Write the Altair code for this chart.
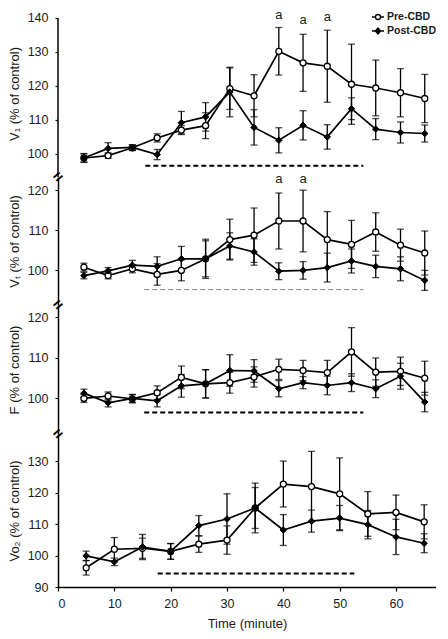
import altair as alt
import pandas as pd

FONT = "Liberation Sans"
TXT = "#1a1a1a"
SERIES = ["Pre-CBD", "Post-CBD"]

# time points (minutes)
t15 = [4.6, 8.9, 13.2, 17.6, 21.9, 26.2, 30.5, 34.8, 39.2, 43.5, 47.8, 52.1, 56.4, 60.8, 65.1]
t13 = [5, 10, 15, 20, 25, 30, 35, 40, 45, 50, 55, 60, 65]

# V1
v1_pre = [98.8, 99.5, 101.8, 104.7, 107.0, 108.3, 119.2, 117.1, 130.2, 126.8, 125.8, 120.5, 119.4, 118.0, 116.3]
v1_pre_err = [1.2, 0.8, 0.8, 1.2, 1.3, 3.8, 6.1, 6.2, 7.0, 8.4, 10.6, 11.8, 8.2, 7.1, 7.1]
v1_post = [98.8, 101.6, 101.9, 99.8, 109.2, 110.9, 118.2, 107.8, 104.0, 108.4, 105.0, 113.3, 107.3, 106.3, 106.0]
v1_post_err = [1.3, 1.7, 0.8, 1.5, 3.3, 4.2, 7.3, 5.2, 3.7, 4.3, 3.6, 3.2, 3.1, 3.1, 2.5]

# VT
vt_pre = [100.7, 98.6, 100.3, 98.9, 99.9, 102.8, 107.6, 108.7, 112.25, 112.25, 107.6, 106.4, 109.5, 106.2, 104.25]
vt_pre_err = [1.0, 0.8, 1.0, 2.7, 2.6, 4.9, 5.1, 6.8, 7.0, 7.7, 7.0, 6.0, 4.8, 4.0, 5.5]
vt_post = [98.6, 99.8, 101.2, 100.9, 102.8, 102.8, 106.0, 104.5, 99.7, 99.9, 100.6, 102.25, 100.9, 100.3, 97.4]
vt_post_err = [0.8, 0.8, 1.2, 2.4, 3.1, 4.5, 3.3, 3.3, 2.1, 2.2, 3.6, 3.0, 2.8, 3.0, 2.5]

# F
f_pre = [99.9, 100.5, 99.8, 101.3, 105.1, 103.5, 103.8, 105.2, 107.1, 106.8, 106.3, 111.4, 106.4, 106.6, 104.9]
f_pre_err = [1.0, 1.0, 1.0, 1.7, 2.8, 3.5, 2.6, 2.5, 2.5, 2.5, 3.0, 6.0, 3.5, 3.5, 4.2]
f_post = [101.2, 98.8, 99.9, 99.3, 103.0, 103.5, 106.8, 106.7, 102.3, 103.8, 103.1, 103.8, 102.3, 105.4, 99.0]
f_post_err = [1.0, 1.0, 1.0, 1.5, 2.8, 3.5, 3.9, 2.8, 2.0, 1.5, 2.3, 2.2, 2.2, 3.2, 2.4]

# VO2
vo_pre = [96.1, 102.0, 102.3, 101.3, 103.6, 104.9, 115.1, 122.7, 121.9, 119.6, 113.2, 113.7, 110.7]
vo_pre_err = [2.3, 3.7, 3.2, 2.5, 2.6, 4.5, 6.5, 7.3, 11.2, 11.4, 7.1, 5.5, 5.4]
vo_post = [99.9, 98.0, 102.7, 101.3, 109.5, 111.6, 115.1, 108.1, 110.9, 111.9, 109.8, 105.9, 103.9]
vo_post_err = [1.5, 1.2, 4.0, 2.5, 3.2, 8.0, 7.9, 4.9, 3.5, 4.0, 4.5, 5.6, 3.0]

titles = ["V\u2081 (% of control)", "V\u209c (% of control)", "F (% of control)", "Vo\u2082 (% of control)"]
y_ticks = [[100, 110, 120, 130, 140], [100, 110, 120], [100, 110, 120], [90, 100, 110, 120, 130]]
y_domains = [[93.2, 142.35], [91.25, 123.25], [91.1, 123.0], [90, 138.6]]
heights = [167, 128, 129, 153]
x_ticks = [0, 10, 20, 30, 40, 50, 60]
x_domain = [0, 67.1]

# dashed bars (time window)
dash_start = [15.5, 15.3, 15.3, 17.7]
dash_end = [54.2, 54.2, 54.2, 52.6]
dash_level = [96.5, 95.1, 96.4, 94.3]
dash_color = ["black", "#9a9a9a", "black", "black"]
dash_width = [2.0, 1.3, 2.0, 2.0]

# significance marks
a1_t = [39.2, 43.5, 47.8]
a1_v = [141.0, 139.4, 140.3]
a2_t = [39.2, 43.5]
a2_v = [122.8, 122.8]

PRE_PATH = "M-1,0L-0.42,0M0.42,0L1,0M-0.42,0A0.42,0.42,0,1,1,0.42,0A0.42,0.42,0,1,1,-0.42,0Z"
POST_PATH = "M-1,0L1,0M0,-0.5L0.45,0L0,0.5L-0.45,0Z"


def make_df(t, pre, pre_e, post, post_e):
    rows = []
    for s, vals, errs in (("Pre-CBD", pre, pre_e), ("Post-CBD", post, post_e)):
        for ti, v, e in zip(t, vals, errs):
            rows.append({"t": ti, "v": v, "lo": v - e, "hi": v + e, "series": s})
    return pd.DataFrame(rows)


dfs = [
    make_df(t15, v1_pre, v1_pre_err, v1_post, v1_post_err),
    make_df(t15, vt_pre, vt_pre_err, vt_post, vt_post_err),
    make_df(t15, f_pre, f_pre_err, f_post, f_post_err),
    make_df(t13, vo_pre, vo_pre_err, vo_post, vo_post_err),
]


def legend_def():
    return alt.Legend(title=None, orient="none", legendX=313, legendY=0,
                      symbolSize=144, symbolStrokeWidth=1.3, symbolOpacity=1,
                      labelFont=FONT, labelFontSize=10.5, labelFontWeight="bold",
                      labelColor=TXT, labelOffset=2, rowPadding=1, padding=0)


def panel(i):
    df = dfs[i]
    bottom = i == 3
    xs = alt.Scale(domain=x_domain, nice=False, zero=False)
    ys = alt.Scale(domain=y_domains[i], nice=False, zero=False)
    if bottom:
        xax = alt.Axis(values=x_ticks, title="Time (minute)", grid=False, tickSize=4,
                       labelPadding=6, titlePadding=8, domainColor="black", tickColor="black",
                       domainWidth=1.5, tickWidth=1.2, labelFont=FONT, labelFontSize=12.5,
                       labelColor=TXT, titleFont=FONT, titleFontSize=13, labelOverlap=False,
                       titleFontWeight="normal", titleColor=TXT)
    else:
        xax = None
    yax = alt.Axis(values=y_ticks[i], title=titles[i], grid=False, domain=(i != 0),
                   tickSize=3, labelPadding=7, titlePadding=6, domainColor="black",
                   tickColor="black", domainWidth=1.5, tickWidth=1.2, labelFont=FONT,
                   labelFontSize=12.5, labelColor=TXT, titleFont=FONT, titleFontSize=13,
                   titleFontWeight="normal", titleColor=TXT, labelOverlap=False,
                   labelBound=False, labelFlush=False, tickCount=len(y_ticks[i]))
    base = alt.Chart(df)
    err = base.mark_rule(color="black", strokeWidth=1.3).encode(
        x=alt.X("t:Q", scale=xs, axis=xax),
        y=alt.Y("lo:Q", scale=ys, axis=yax),
        y2="hi:Q",
    )
    cap_lo = base.mark_tick(orient="horizontal", color="black", size=7, thickness=1.3).encode(
        x="t:Q", y="lo:Q")
    cap_hi = base.mark_tick(orient="horizontal", color="black", size=7, thickness=1.3).encode(
        x="t:Q", y="hi:Q")
    line = base.mark_line(color="black", strokeWidth=1.7).encode(
        x="t:Q", y="v:Q", detail="series:N")
    pre_pts = base.transform_filter(alt.datum.series == "Pre-CBD").mark_point(
        shape="circle", filled=True, fill="white", stroke="black", strokeWidth=1.3,
        size=36, opacity=1).encode(x="t:Q", y="v:Q")
    post_pts = base.transform_filter(alt.datum.series == "Post-CBD").mark_point(
        shape="diamond", filled=True, fill="black", stroke="black", strokeWidth=1,
        size=42, opacity=1).encode(x="t:Q", y="v:Q")

    dash = alt.Chart(pd.DataFrame({"x0": [dash_start[i]], "x1": [dash_end[i]],
                                   "y": [dash_level[i]]})).mark_rule(
        strokeDash=[5, 3], strokeWidth=dash_width[i], color=dash_color[i]).encode(
        x="x0:Q", x2="x1:Q", y="y:Q")

    layers = [err, cap_lo, cap_hi, line, pre_pts, post_pts, dash]

    one = pd.DataFrame({"k": [0]})
    if i < 3:
        brk = alt.Chart(one).mark_text(text="=", angle=320, fontSize=16, fontWeight="bold",
                                       color="black", font=FONT).encode(
            x=alt.datum(0), y=alt.datum(y_domains[i][0]))
        layers.append(brk)
    if i == 0:
        axis_line = alt.Chart(one).mark_rule(color="black", strokeWidth=1.5).encode(
            x=alt.datum(0), y=alt.datum(y_domains[0][0]), y2=alt.datum(140))
        layers.append(axis_line)
        ann = alt.Chart(pd.DataFrame({"t": a1_t, "v": a1_v})).mark_text(
            text="a", fontSize=13, font=FONT, color=TXT, baseline="middle").encode(
            x="t:Q", y="v:Q")
        layers.append(ann)
        leg_df = pd.DataFrame({"series": SERIES, "t": [t15[0], t15[0]], "v": [v1_pre[0], v1_pre[0]]})
        leg = alt.Chart(leg_df).mark_point(filled=True, opacity=0, strokeWidth=1.3,
                                            size=144).encode(
            x="t:Q", y="v:Q",
            shape=alt.Shape("series:N", scale=alt.Scale(domain=SERIES, range=[PRE_PATH, POST_PATH]),
                            legend=legend_def()),
            fill=alt.Fill("series:N", scale=alt.Scale(domain=SERIES, range=["white", "black"]),
                          legend=legend_def()),
            stroke=alt.Stroke("series:N", scale=alt.Scale(domain=SERIES, range=["black", "black"]),
                              legend=legend_def()),
        )
        layers.append(leg)
    if i == 1:
        ann = alt.Chart(pd.DataFrame({"t": a2_t, "v": a2_v})).mark_text(
            text="a", fontSize=13, font=FONT, color=TXT, baseline="middle").encode(
            x="t:Q", y="v:Q")
        layers.append(ann)

    return alt.layer(*layers).properties(width=378, height=heights[i])


chart = alt.vconcat(*[panel(i) for i in range(4)], spacing=0, bounds="flush").configure_view(
    stroke=None).configure_axis(labelOverlap=False).properties(
    padding={"left": 0, "top": 0, "right": 0, "bottom": 0})

chart.save("out.html", embed_options={"renderer": "svg", "actions": False})
